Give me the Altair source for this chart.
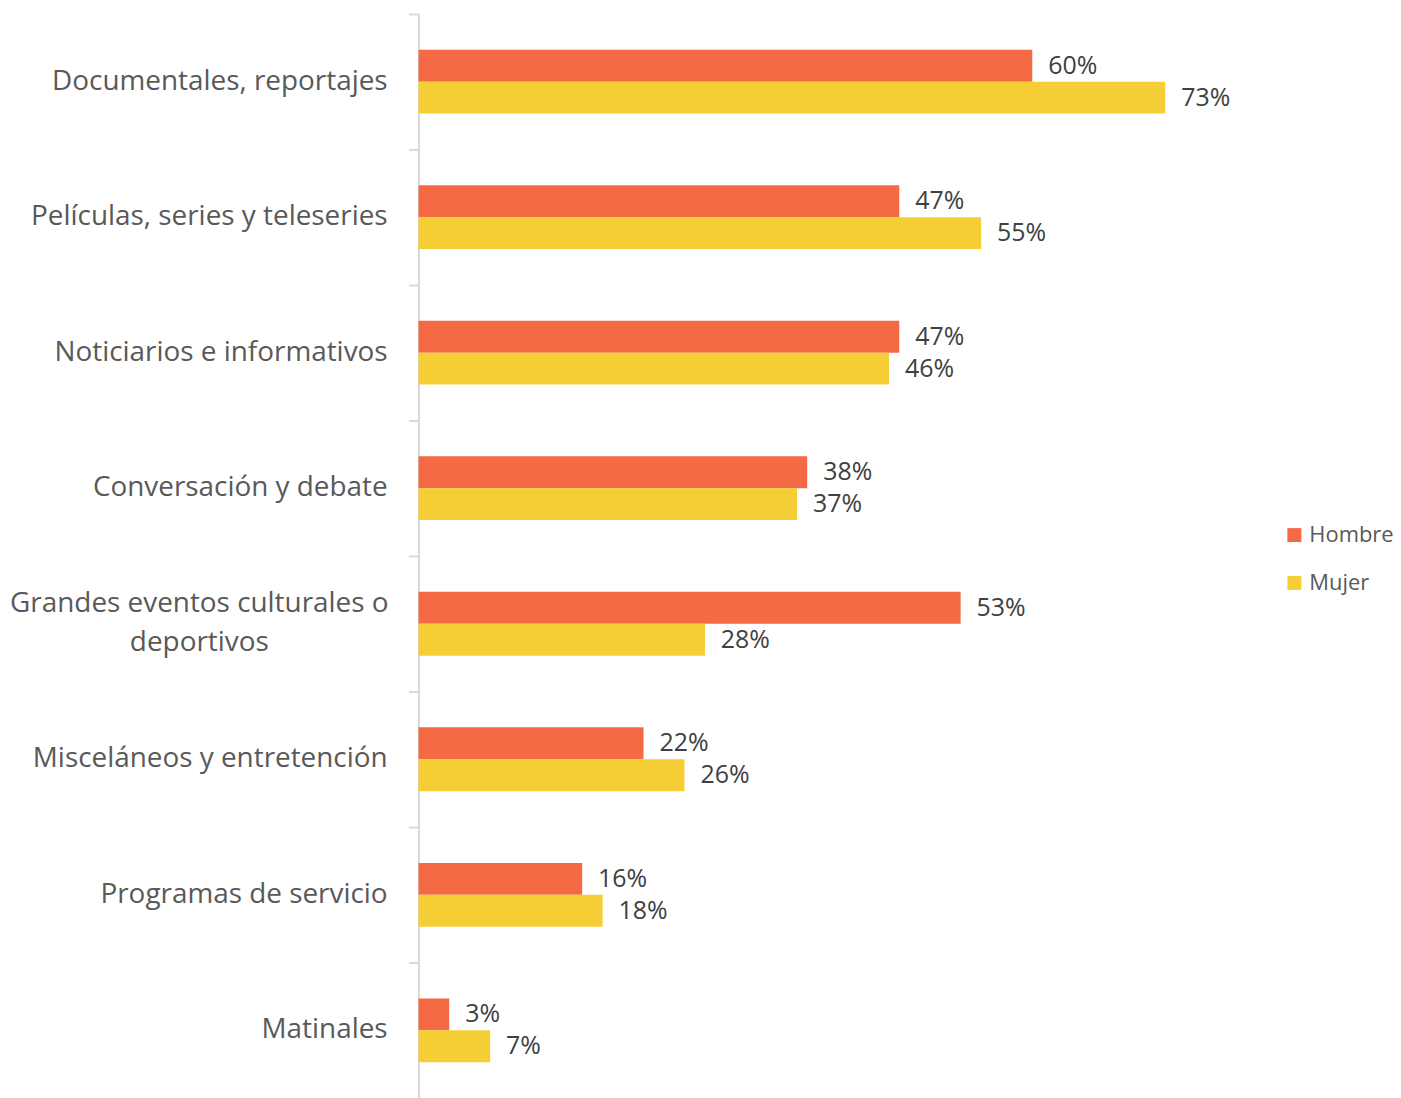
import altair as alt
import pandas as pd

categories = [
    "Documentales, reportajes",
    "Películas, series y teleseries",
    "Noticiarios e informativos",
    "Conversación y debate",
    "Grandes eventos culturales o deportivos",
    "Misceláneos y entretención",
    "Programas de servicio",
    "Matinales",
]
hombre = [60, 47, 47, 38, 53, 22, 16, 3]
mujer = [73, 55, 46, 37, 28, 26, 18, 7]
series = ["Hombre", "Mujer"]
colors = ["#F46A45", "#F5CD35"]

rows = []
for c, h, m in zip(categories, hombre, mujer):
    rows.append({"cat": c, "serie": "Hombre", "val": h, "lab": f"{h}%"})
    rows.append({"cat": c, "serie": "Mujer", "val": m, "lab": f"{m}%"})
df = pd.DataFrame(rows)

cat_df = pd.DataFrame({"cat": categories})
multi = "Grandes eventos culturales o deportivos"
cat_single = cat_df[cat_df["cat"] != multi]
cat_multi = pd.DataFrame({"cat": [multi], "txt": ["Grandes eventos culturales o\ndeportivos"]})

FONT = "Open Sans"

y_enc = alt.Y(
    "cat:N",
    sort=categories,
    scale=alt.Scale(paddingInner=0, paddingOuter=0),
    axis=alt.Axis(
        title=None,
        labels=False,
        domainColor="#D9D9D9",
        domainWidth=2,
        tickColor="#D9D9D9",
        tickWidth=2,
        tickSize=10,
        bandPosition=0,
    ),
)
x_enc = alt.X(
    "val:Q",
    scale=alt.Scale(domain=[0, 79], nice=False),
    axis=None,
)
off_domain = ["_a", "Hombre", "Mujer", "_b"]
yoff = alt.YOffset("serie:N", scale=alt.Scale(domain=off_domain, paddingOuter=0.125, paddingInner=0))

bars = alt.Chart(df).mark_bar().encode(
    y=y_enc,
    x=x_enc,
    yOffset=yoff,
    color=alt.Color(
        "serie:N",
        sort=series,
        scale=alt.Scale(domain=series, range=colors),
        legend=alt.Legend(
            title=None,
            orient="none",
            legendX=868,
            legendY=512,
            symbolType="square",
            symbolSize=196,
            symbolStrokeWidth=0,
            labelFont=FONT,
            labelFontSize=22,
            labelColor="#595959",
            rowPadding=26,
            labelOffset=4,
        ),
    ),
)

vals = alt.Chart(df).mark_text(
    align="left", baseline="middle", dx=16, font=FONT, fontSize=25, color="#404040"
).encode(y=alt.Y("cat:N", sort=categories), x="val:Q", yOffset=yoff, text="lab:N")

labs1 = alt.Chart(cat_single).mark_text(
    align="right", baseline="middle", font=FONT, fontSize=28, color="#595959"
).encode(y=alt.Y("cat:N", sort=categories), x=alt.value(-31), text="cat:N")

labs2 = alt.Chart(cat_multi).mark_text(
    align="center", baseline="middle", font=FONT, fontSize=28, color="#595959",
    lineBreak="\n", lineHeight=39, dy=-19.5,
).encode(y=alt.Y("cat:N", sort=categories), x=alt.value(-220), text="txt:N")

chart = alt.layer(bars, vals, labs1, labs2).properties(
    width=811,
    height=1088,
    autosize=alt.AutoSizeParams(type="none"),
    padding={"left": 412, "top": 4, "right": 167, "bottom": 0},
).configure(background="white").configure_view(strokeWidth=0)

chart.save("out.html", embed_options={"renderer": "svg", "actions": False})
